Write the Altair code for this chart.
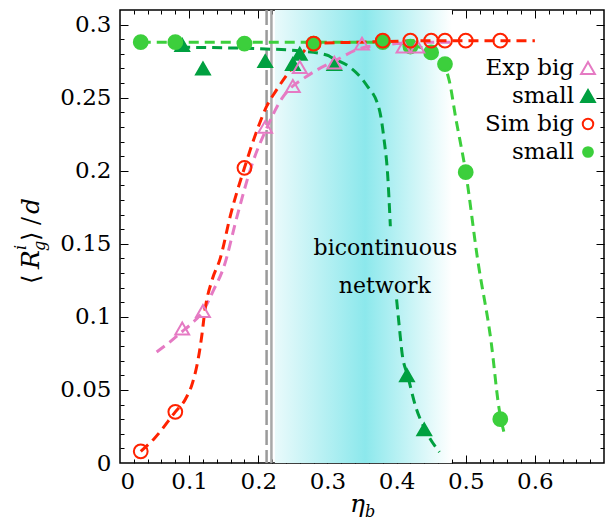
import altair as alt
import pandas as pd

# ---------------- data ----------------
series_names = ["Exp big", "Exp small", "Sim big", "Sim small"]
legend_labels = ["Exp big", "small", "Sim big", "small"]

exp_big_x = [0.09, 0.12, 0.21, 0.25, 0.26, 0.31, 0.35, 0.41, 0.43]
exp_big_y = [0.092, 0.104, 0.230, 0.258, 0.271, 0.274, 0.287, 0.285, 0.285]

exp_small_x = [0.09, 0.12, 0.21, 0.25, 0.26, 0.31, 0.415, 0.44]
exp_small_y = [0.286, 0.270, 0.275, 0.273, 0.280, 0.273, 0.060, 0.023]

sim_big_x = [0.03, 0.08, 0.18, 0.28, 0.38, 0.42, 0.45, 0.47, 0.50, 0.55]
sim_big_y = [0.008, 0.035, 0.202, 0.287, 0.289, 0.289, 0.289, 0.289, 0.289, 0.289]

sim_small_x = [0.03, 0.08, 0.18, 0.28, 0.38, 0.42, 0.45, 0.47, 0.50, 0.55]
sim_small_y = [0.288, 0.288, 0.287, 0.287, 0.288, 0.285, 0.281, 0.273, 0.199, 0.030]

# dashed guide curves
fit_exp_big_x = [0.053, 0.07, 0.09, 0.105, 0.12, 0.135, 0.15, 0.17, 0.19, 0.212, 0.235, 0.25,
                 0.265, 0.285, 0.31, 0.35, 0.40, 0.44, 0.486]
fit_exp_big_y = [0.076, 0.082, 0.090, 0.096, 0.104, 0.118, 0.134, 0.170, 0.203, 0.229, 0.250, 0.258,
                 0.263, 0.269, 0.275, 0.284, 0.287, 0.288, 0.288]

fit_exp_small_a_x = [0.087, 0.20, 0.26, 0.30, 0.308, 0.332, 0.356, 0.375, 0.382, 0.387, 0.391]
fit_exp_small_a_y = [0.2845, 0.2835, 0.282, 0.279, 0.277, 0.271, 0.259, 0.242, 0.221, 0.198, 0.162]
fit_exp_small_b_x = [0.400, 0.404, 0.408, 0.416, 0.428, 0.44, 0.462]
fit_exp_small_b_y = [0.112, 0.093, 0.075, 0.060, 0.038, 0.024, 0.0075]

fit_sim_big_x = [0.03, 0.05, 0.08, 0.095, 0.105, 0.113, 0.118, 0.123, 0.133, 0.145, 0.16, 0.18,
                 0.20, 0.212, 0.226, 0.25, 0.28, 0.35, 0.45, 0.60]
fit_sim_big_y = [0.008, 0.017, 0.035, 0.044, 0.055, 0.071, 0.086, 0.105, 0.125, 0.140, 0.170, 0.202,
                 0.230, 0.244, 0.255, 0.271, 0.287, 0.288, 0.289, 0.289]

fit_sim_small_x = [0.03, 0.10, 0.20, 0.30, 0.38, 0.42, 0.45, 0.469, 0.476, 0.486, 0.50, 0.517,
                   0.537, 0.548, 0.557]
fit_sim_small_y = [0.288, 0.288, 0.288, 0.288, 0.288, 0.286, 0.281, 0.272, 0.262, 0.235, 0.199, 0.140,
                   0.082, 0.038, 0.018]

band_from, band_to = 0.224, 0.48          # shaded "bicontinuous network" region
percolation_dashed, percolation_solid = 0.212, 0.219
annotation_lines = ["bicontinuous", "network"]

x_label_values = [0, 0.1, 0.2, 0.3, 0.4, 0.5, 0.6]
y_label_values = [0, 0.05, 0.1, 0.15, 0.2, 0.25, 0.3]

# ---------------- build tables ----------------
rows = []
for name, xx, yy in [("Exp small", exp_small_x, exp_small_y), ("Sim small", sim_small_x, sim_small_y),
                     ("Exp big", exp_big_x, exp_big_y), ("Sim big", sim_big_x, sim_big_y)]:
    for a, b in zip(xx, yy):
        rows.append({"series": name, "x": a, "y": b})
pts = pd.DataFrame(rows)

frows = []
for name, seg, xx, yy in [("Exp small", "a", fit_exp_small_a_x, fit_exp_small_a_y),
                          ("Exp small", "b", fit_exp_small_b_x, fit_exp_small_b_y),
                          ("Sim small", "a", fit_sim_small_x, fit_sim_small_y),
                          ("Exp big", "a", fit_exp_big_x, fit_exp_big_y),
                          ("Sim big", "a", fit_sim_big_x, fit_sim_big_y)]:
    for a, b in zip(xx, yy):
        frows.append({"series": name, "seg": name + seg, "x": a, "y": b})
fits = pd.DataFrame(frows)

band = pd.DataFrame({"x0": [band_from], "x1": [band_to]})
one = pd.DataFrame({"v": [0]})

# ---------------- styling ----------------
W, H = 484, 453
FONT = "DejaVu Serif"
PINK, DGREEN, RED, LGREEN = "#e57ac3", "#00a040", "#ff2200", "#3ccf3c"
stroke_range = [PINK, DGREEN, RED, LGREEN]
fill_range = ["transparent", DGREEN, "transparent", LGREEN]
shape_range = ["triangle-up", "triangle-up", "circle", "circle"]
size_range = [190, 190, 110, 95]

xs = alt.Scale(domain=[0, 0.7], nice=False, zero=False)
ys = alt.Scale(domain=[0, 0.31], nice=False, zero=False)

gradient = alt.Gradient(
    gradient="linear", x1=0, x2=1, y1=0, y2=0,
    stops=[alt.GradientStop(color="#e9fafb", offset=0),
           alt.GradientStop(color="#8ce8ec", offset=0.51),
           alt.GradientStop(color="#ffffff", offset=1)])

band_layer = alt.Chart(band).mark_rect(color=gradient).encode(
    x=alt.X("x0:Q", scale=xs, axis=None), x2="x1:Q",
    y=alt.value(0), y2=alt.value(H))

vdash = alt.Chart(pd.DataFrame({"x": [percolation_dashed]})).mark_rule(
    color="#9a9a9a", strokeWidth=2.5, strokeDash=[15, 5]).encode(x=alt.X("x:Q", scale=xs, axis=None))
vsolid = alt.Chart(pd.DataFrame({"x": [percolation_solid]})).mark_rule(
    color="#a8a8a8", strokeWidth=2.5).encode(x=alt.X("x:Q", scale=xs, axis=None))

lines = alt.Chart(fits).mark_line(strokeDash=[10, 6], strokeWidth=3, interpolate="monotone").encode(
    x=alt.X("x:Q", scale=xs, axis=None),
    y=alt.Y("y:Q", scale=ys, axis=None),
    color=alt.Color("series:N", scale=alt.Scale(domain=series_names, range=stroke_range), legend=None),
    detail="seg:N")

points = alt.Chart(pts).mark_point(filled=False, strokeWidth=2, opacity=1).encode(
    x=alt.X("x:Q", scale=xs, axis=None),
    y=alt.Y("y:Q", scale=ys, axis=None),
    stroke=alt.Stroke("series:N", scale=alt.Scale(domain=series_names, range=stroke_range), legend=None),
    fill=alt.Fill("series:N", scale=alt.Scale(domain=series_names, range=fill_range), legend=None),
    shape=alt.Shape("series:N", scale=alt.Scale(domain=series_names, range=shape_range), legend=None),
    size=alt.Size("series:N", scale=alt.Scale(domain=series_names, range=size_range), legend=None))

ann = pd.DataFrame({"label": annotation_lines, "x": [0.384, 0.383], "y": [0.1425, 0.1165]})
ann_layer = alt.Chart(ann).mark_text(font=FONT, fontSize=22, align="center", baseline="alphabetic",
                                     color="black").encode(
    x=alt.X("x:Q", scale=xs, axis=None), y=alt.Y("y:Q", scale=ys, axis=None), text="label:N")


def txt(s, px, py, size=23, italic=False, angle=0, align="left", baseline="alphabetic", font=FONT):
    kw = dict(text=s, font=font, fontSize=size, align=align, baseline=baseline, color="black",
              angle=angle)
    if italic:
        kw["fontStyle"] = "italic"
    return alt.Chart(one).mark_text(**kw).encode(x=alt.value(px), y=alt.value(py))


titles = [
    txt("\u27e8", -81, 274, angle=270, size=24),
    txt("R", -81, 259, italic=True, angle=270, size=25),
    txt("i", -94, 240, size=16, italic=True, angle=270),
    txt("g", -75, 241, size=16, italic=True, angle=270),
    txt("\u27e9", -81, 231, angle=270, size=24),
    txt("/", -81, 215, angle=270, size=24),
    txt("d", -81, 204, italic=True, angle=270, size=25),
    txt("\u03b7", 230, 502, italic=True, size=25),
    txt("b", 245, 507, size=16, italic=True),
]

# manual legend (labels to the left of the symbols, as in the reference)
legend_layers = []
for i, (name, lab) in enumerate(zip(series_names, legend_labels)):
    cy = 58 + 28 * i
    legend_layers.append(txt(lab, 454, cy, align="right", baseline="middle"))
    legend_layers.append(
        alt.Chart(one).mark_point(shape=shape_range[i], stroke=stroke_range[i], fill=fill_range[i],
                                  size=size_range[i], strokeWidth=2, opacity=1)
        .encode(x=alt.value(468), y=alt.value(cy)))

# ---------------- axes: labels + inward major/minor ticks on all sides ----------------
x_major = [round(0.1 * i, 2) for i in range(1, 7)]
x_minor = [round(0.02 * i, 2) for i in range(1, 35) if i % 5 != 0]
y_major = [round(0.05 * i, 2) for i in range(1, 7)]
y_minor = [round(0.01 * i, 2) for i in range(1, 31) if i % 5 != 0]


def xaxis(**kw):
    return alt.Chart(one).mark_point(opacity=0).encode(
        x=alt.X("v:Q", scale=xs, title=None, axis=alt.Axis(grid=False, domain=False, **kw)))


def yaxis(**kw):
    return alt.Chart(one).mark_point(opacity=0).encode(
        y=alt.Y("v:Q", scale=ys, title=None, axis=alt.Axis(grid=False, domain=False, **kw)))


axes = [
    xaxis(orient="bottom", values=x_label_values, format=".1~f", ticks=False, tickSize=0, labelPadding=7,
          labelFont=FONT, labelFontSize=23, labelColor="black"),
    xaxis(orient="bottom", values=x_major, labels=False, tickSize=8, offset=-8, tickColor="black"),
    xaxis(orient="bottom", values=x_minor, labels=False, tickSize=4, offset=-4, tickColor="black"),
    xaxis(orient="top", values=x_major, labels=False, tickSize=8, offset=-8, tickColor="black"),
    xaxis(orient="top", values=x_minor, labels=False, tickSize=4, offset=-4, tickColor="black"),
    yaxis(orient="left", values=y_label_values, format=".2~f", ticks=False, tickSize=0, labelPadding=9,
          labelFont=FONT, labelFontSize=23, labelColor="black"),
    yaxis(orient="left", values=y_major, labels=False, tickSize=8, offset=-8, tickColor="black"),
    yaxis(orient="left", values=y_minor, labels=False, tickSize=4, offset=-4, tickColor="black"),
    yaxis(orient="right", values=y_major, labels=False, tickSize=8, offset=-8, tickColor="black"),
    yaxis(orient="right", values=y_minor, labels=False, tickSize=4, offset=-4, tickColor="black"),
]

chart = alt.layer(band_layer, vdash, vsolid, lines, points, ann_layer, *titles, *legend_layers,
                  *axes).resolve_axis(
    x="independent", y="independent"
).properties(
    width=W, height=H,
    padding={"left": 112, "top": 2, "right": 1, "bottom": 58},
    autosize=alt.AutoSizeParams(type="none"),
).configure_view(stroke="black", strokeWidth=1.5).configure_axis(tickWidth=1)

chart.save("out.html", embed_options={"renderer": "svg", "actions": False})
